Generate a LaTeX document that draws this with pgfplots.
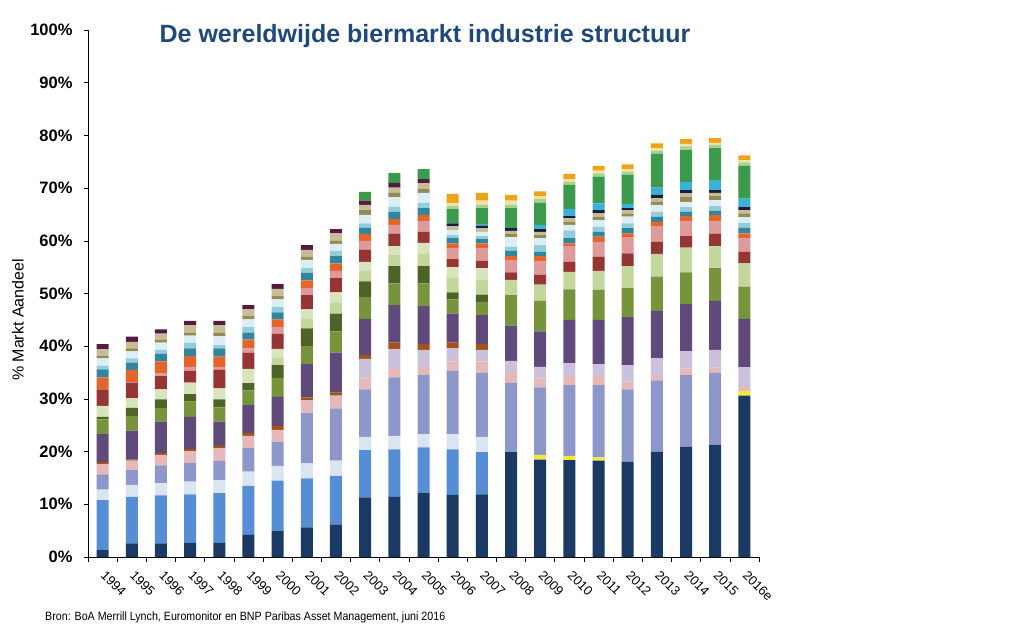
\documentclass[border=0pt]{standalone}
\usepackage{pgfplots}
\pgfplotsset{compat=1.18}
\usepackage{pgfplotstable}
\usepackage{graphicx}
\usepackage{fontspec}
\setmainfont{Liberation Sans}

\definecolor{cNavy}{HTML}{1A3A64}
\definecolor{cYellow}{HTML}{F2E83C}
\definecolor{cMidblue}{HTML}{558ED5}
\definecolor{cLight}{HTML}{DBE5F1}
\definecolor{cPeri}{HTML}{8D97C9}
\definecolor{cPink}{HTML}{E6B9B8}
\definecolor{cLav}{HTML}{CCC1DA}
\definecolor{cBrown}{HTML}{A35219}
\definecolor{cPurple}{HTML}{604A7B}
\definecolor{cOlive}{HTML}{77933C}
\definecolor{cDolive}{HTML}{4F6228}
\definecolor{cLg}{HTML}{C3D69B}
\definecolor{cVlg}{HTML}{D7E4BD}
\definecolor{cRed}{HTML}{963634}
\definecolor{cSalmon}{HTML}{DE9A98}
\definecolor{cOrange}{HTML}{E2662C}
\definecolor{cTeal}{HTML}{31859C}
\definecolor{cLblue}{HTML}{93CDDD}
\definecolor{cVlb}{HTML}{DAEEF3}
\definecolor{cOtan}{HTML}{948A54}
\definecolor{cTan}{HTML}{C4BD97}
\definecolor{cMaroon}{HTML}{561A3C}
\definecolor{cDnavy}{HTML}{1C1C3A}
\definecolor{cCyan}{HTML}{3AB2D8}
\definecolor{cGreen}{HTML}{3C9A4C}
\definecolor{cLgreen}{HTML}{A9D18E}
\definecolor{cBeige}{HTML}{EAE4A8}
\definecolor{cGold}{HTML}{F0A318}
\definecolor{titleblue}{HTML}{1F497D}

% cumulative tops of each segment (in % of market)
\pgfplotstableread{
x navy yellow midblue light peri pink lav brown purple olive dolive lg vlg red salmon orange teal lblue vlb otan tan maroon dnavy cyan green lgreen beige gold
0 1.3 1.3 10.8 12.8 15.7 17.6 17.6 18.0 23.3 26.1 26.6 26.6 28.7 31.8 31.9 34.1 35.6 36.3 37.7 38.1 39.4 40.4 40.4 40.4 40.4 40.4 40.4 40.4
1 2.6 2.6 11.4 13.7 16.5 18.3 18.3 18.5 24.0 26.8 28.3 28.3 30.1 33.1 33.2 35.5 36.9 37.7 39.0 39.6 40.8 41.8 41.8 41.8 41.8 41.8 41.8 41.8
2 2.6 2.6 11.7 14.0 17.4 19.4 19.4 19.7 25.7 28.3 29.9 29.9 31.8 34.3 34.9 37.1 38.6 39.3 40.7 41.2 42.4 43.2 43.2 43.2 43.2 43.2 43.2 43.2
3 2.7 2.7 11.9 14.3 17.9 20.1 20.1 20.5 26.6 29.5 30.9 30.9 33.1 35.3 36.1 38.1 39.6 40.7 42.0 42.6 44.0 44.8 44.8 44.8 44.8 44.8 44.8 44.8
4 2.7 2.7 12.1 14.6 18.3 20.6 20.6 21.1 25.7 28.4 29.9 29.9 32.0 35.5 36.1 38.0 39.6 40.2 41.9 42.6 44.0 44.8 44.8 44.8 44.8 44.8 44.8 44.8
5 4.2 4.2 13.5 16.2 20.7 23.0 23.0 23.5 28.8 31.6 33.0 33.0 35.7 38.8 39.6 41.3 42.6 43.6 45.1 45.7 47.0 47.8 47.8 47.8 47.8 47.8 47.8 47.8
6 5.0 5.0 14.5 17.3 21.9 24.1 24.1 24.9 30.4 34.0 36.4 37.9 39.5 42.4 43.6 45.1 46.4 47.4 48.9 49.5 50.9 51.8 51.8 51.8 51.8 51.8 51.8 51.8
7 5.6 5.6 14.9 17.8 27.3 29.7 29.7 30.3 36.6 40.0 43.4 45.3 47.0 49.7 51.0 52.5 53.9 54.8 56.4 57.0 58.3 59.2 59.2 59.2 59.2 59.2 59.2 59.2
8 6.1 6.1 15.4 18.3 28.2 30.6 30.6 31.2 38.8 42.8 46.2 48.3 50.2 52.9 54.3 55.7 57.1 58.1 59.4 60.0 61.4 62.2 62.2 62.2 62.2 62.2 62.2 62.2
9 11.3 11.3 20.3 22.8 31.8 33.9 37.6 38.3 45.2 49.3 52.3 54.4 56.0 58.3 60.0 61.3 62.5 63.3 64.9 65.8 66.8 67.6 67.6 67.6 69.3 69.3 69.3 69.3
10 11.4 11.4 20.4 23.0 34.1 35.7 39.5 40.7 47.8 51.9 55.2 57.4 59.0 61.3 63.0 64.1 65.5 66.5 68.3 69.1 70.1 71.0 71.0 71.0 72.9 72.9 72.9 72.9
11 12.2 12.2 20.8 23.3 34.5 36.1 39.3 40.4 47.6 51.9 55.2 57.6 59.6 61.7 63.8 64.9 66.2 67.2 69.1 69.9 70.9 71.7 71.7 71.7 73.6 73.6 73.6 73.6
12 11.8 11.8 20.4 23.3 35.3 37.1 39.6 40.7 46.2 48.9 50.2 52.9 55.0 56.5 58.6 59.5 60.5 61.1 62.0 62.0 62.8 62.8 63.3 63.4 66.0 66.6 67.2 68.9
13 11.9 11.9 19.9 22.8 35.0 37.1 39.3 40.4 45.9 48.4 49.8 52.6 54.8 56.2 58.6 59.5 60.3 60.9 61.7 61.7 62.4 62.4 62.9 63.2 66.2 66.8 67.6 69.1
14 19.9 19.9 19.9 19.9 33.1 34.9 37.2 37.2 43.9 49.7 49.7 52.6 52.6 54.0 56.4 57.1 58.1 58.9 60.7 61.3 61.9 61.9 62.4 62.4 66.2 66.8 67.6 68.7
15 18.5 19.4 19.4 19.4 32.2 33.9 36.1 36.1 42.8 48.6 48.6 51.7 51.7 53.6 56.2 57.1 57.9 59.2 60.5 61.1 61.7 61.7 62.2 63.0 67.2 67.9 68.5 69.4
16 18.4 19.2 19.2 19.2 32.6 34.3 36.8 36.8 45.0 50.8 50.8 54.1 54.1 56.0 59.0 59.5 60.5 62.0 63.0 63.6 64.3 64.3 64.7 66.0 70.6 71.2 71.7 72.7
17 18.3 18.9 18.9 18.9 32.6 34.3 36.6 36.6 45.0 50.7 50.7 54.3 54.3 57.0 59.8 60.8 61.7 62.7 63.9 64.5 65.2 65.2 65.8 67.1 72.2 72.8 73.3 74.2
18 18.1 18.1 18.1 18.1 31.8 33.3 36.4 36.4 45.5 51.0 51.0 55.2 55.2 57.6 60.6 61.4 62.4 63.3 64.6 65.1 65.8 65.8 66.2 67.0 72.5 73.1 73.6 74.5
19 20.0 20.0 20.0 20.0 33.5 34.2 37.7 37.7 46.7 53.2 53.2 57.5 57.5 59.8 62.8 63.6 64.6 65.5 66.8 67.4 68.1 68.1 68.7 70.1 76.5 77.1 77.6 78.5
20 20.9 20.9 20.9 20.9 34.5 35.8 39.0 39.0 48.0 54.0 54.0 58.7 58.7 60.9 63.8 64.7 65.5 66.4 67.4 68.3 69.0 69.0 69.6 71.2 77.2 77.9 78.4 79.3
21 21.3 21.3 21.3 21.3 35.0 36.0 39.3 39.3 48.6 54.8 54.8 59.0 59.0 61.3 63.8 64.9 65.7 66.6 67.7 68.5 69.1 69.1 69.6 71.5 77.6 78.2 78.6 79.5
22 30.6 31.5 31.5 31.5 31.5 32.3 36.0 36.0 45.2 51.3 51.3 55.7 55.7 57.9 60.5 61.4 62.5 63.4 64.5 65.2 65.8 65.8 66.4 68.0 74.2 74.9 75.3 76.2
}\data

\newcommand{\seg}[3]{\addplot[fill=#1,draw=none] table[x=x,y expr=\thisrow{#2}-\thisrow{#3}]{\data};}

\begin{document}
\begin{tikzpicture}
\useasboundingbox (0,0) rectangle (1024pt,625pt);
\begin{axis}[
  at={(88pt,68pt)}, anchor=south west,
  scale only axis, width=671pt, height=527pt,
  xmin=-0.5, xmax=22.5, ymin=0, ymax=100,
  enlargelimits=false,
  ybar stacked, bar width=12pt,
  axis x line*=bottom, axis y line*=left,
  axis line style={-, black, line width=0.7pt},
  tick align=outside,
  ytick={0,10,...,100},
  yticklabels={0\%,10\%,20\%,30\%,40\%,50\%,60\%,70\%,80\%,90\%,100\%},
  yticklabel style={font=\bfseries\fontsize{16.5}{19}\selectfont, xshift=-8pt},
  major tick length=4pt,
  major y tick style={black, line width=0.6pt},
  xtick={0,...,22},
  xticklabels={1994,1995,1996,1997,1998,1999,2000,2001,2002,2003,2004,2005,2006,2007,2008,2009,2010,2011,2012,2013,2014,2015,2016e},
  major x tick style={draw=none},
  minor xtick={-0.5,0.5,...,22.5},
  minor tick length=5pt,
  minor x tick style={black, line width=0.6pt},
  xticklabel style={xshift=4pt, yshift=-7pt, font=\fontsize{13}{15}\selectfont, rotate=-45, anchor=north west, inner sep=1pt},
]
\addplot[fill=cNavy,draw=none] table[x=x,y=navy]{\data};
\seg{cYellow}{yellow}{navy}
\seg{cMidblue}{midblue}{yellow}
\seg{cLight}{light}{midblue}
\seg{cPeri}{peri}{light}
\seg{cPink}{pink}{peri}
\seg{cLav}{lav}{pink}
\seg{cBrown}{brown}{lav}
\seg{cPurple}{purple}{brown}
\seg{cOlive}{olive}{purple}
\seg{cDolive}{dolive}{olive}
\seg{cLg}{lg}{dolive}
\seg{cVlg}{vlg}{lg}
\seg{cRed}{red}{vlg}
\seg{cSalmon}{salmon}{red}
\seg{cOrange}{orange}{salmon}
\seg{cTeal}{teal}{orange}
\seg{cLblue}{lblue}{teal}
\seg{cVlb}{vlb}{lblue}
\seg{cOtan}{otan}{vlb}
\seg{cTan}{tan}{otan}
\seg{cMaroon}{maroon}{tan}
\seg{cDnavy}{dnavy}{maroon}
\seg{cCyan}{cyan}{dnavy}
\seg{cGreen}{green}{cyan}
\seg{cLgreen}{lgreen}{green}
\seg{cBeige}{beige}{lgreen}
\seg{cGold}{gold}{beige}
\end{axis}
\node[font=\bfseries\fontsize{25}{29}\selectfont, text=titleblue] at (425pt,589pt) {De wereldwijde biermarkt industrie structuur};
\node[rotate=90, font=\fontsize{16}{19}\selectfont] at (18pt,305pt) {\% Markt Aandeel};
\node[anchor=west, inner sep=0pt, font=\fontsize{12}{14}\selectfont] at (45pt,8pt) {\scalebox{0.89}[1]{Bron: BoA Merrill Lynch, Euromonitor en BNP Paribas Asset Management, juni 2016}};
\end{tikzpicture}
\end{document}
